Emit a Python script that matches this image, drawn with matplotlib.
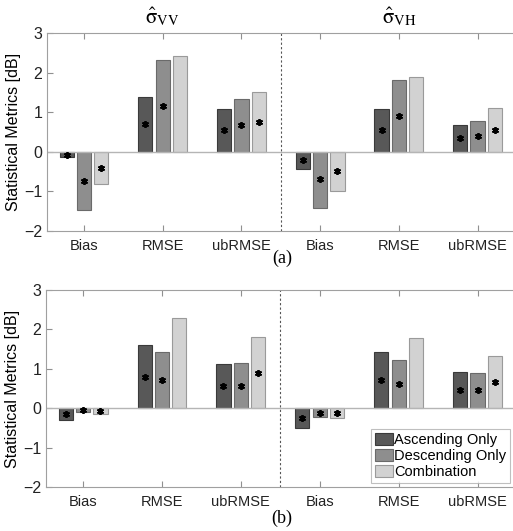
import numpy as np
import matplotlib.pyplot as plt

# =========================
# 数据
# =========================
metrics = ["Bias", "RMSE", "ubRMSE", "Bias", "RMSE", "ubRMSE"]
series = ["Ascending Only", "Descending Only", "Combination"]

# (a) 前三组: sigma_VV, 后三组: sigma_VH
a_asc = [-0.14, 1.38, 1.09, -0.44, 1.07, 0.68]
a_desc = [-1.46, 2.32, 1.33, -1.41, 1.81, 0.77]
a_comb = [-0.82, 2.41, 1.50, -0.98, 1.88, 1.10]
a_star_asc = [-0.08, 0.69, 0.55, -0.22, 0.54, 0.35]
a_star_desc = [-0.73, 1.15, 0.67, -0.70, 0.90, 0.39]
a_star_comb = [-0.41, np.nan, 0.75, -0.49, np.nan, 0.54]

# (b)
b_asc = [-0.31, 1.60, 1.13, -0.51, 1.42, 0.92]
b_desc = [-0.09, 1.42, 1.15, -0.22, 1.22, 0.90]
b_comb = [-0.16, 2.28, 1.80, -0.24, 1.77, 1.33]
b_star_asc = [-0.15, 0.80, 0.56, -0.25, 0.71, 0.46]
b_star_desc = [-0.05, 0.71, 0.56, -0.11, 0.61, 0.45]
b_star_comb = [-0.08, np.nan, 0.90, -0.13, np.nan, 0.66]

colors = ["#585858", "#8e8e8e", "#d2d2d2"]
edges = ["#3a3a3a", "#6a6a6a", "#9a9a9a"]

plt.rcParams["font.family"] = ["Liberation Sans", "DejaVu Sans"]
plt.rcParams["mathtext.fontset"] = "stix"

fig = plt.figure(figsize=(5.13, 5.31), dpi=100)
ax_a = fig.add_axes([47 / 513, 0.565, 1 - 47 / 513, 0.373])
ax_b = fig.add_axes([46 / 513, 0.0829, 1 - 46 / 513, 0.371])

x = np.arange(1, 7)
w = 0.18
off = 0.22


def draw_panel(ax, bars, stars):
    for k in range(3):
        ax.bar(x + (k - 1) * off, bars[k], width=w, color=colors[k],
               edgecolor=edges[k], linewidth=0.8, label=series[k], zorder=2)
        ax.plot(x + (k - 1) * off, stars[k], linestyle="none",
                marker=(6, 2, 0), color="black", markersize=5,
                markeredgewidth=1.3, zorder=3)
    ax.axhline(0, color="#b5b5b5", linewidth=1.0, zorder=2.5)
    ax.axvline(3.5, color="#555555", linestyle=(0, (2, 2)), linewidth=0.8)
    ax.set_xlim(0.53, 6.45)
    ax.set_ylim(-2, 3)
    ax.set_yticks([-2, -1, 0, 1, 2, 3])
    ax.set_xticks(x)
    ax.set_xticklabels(metrics, fontsize=10.5)
    ax.tick_params(axis="x", pad=6)
    ax.tick_params(axis="y", labelsize=11.5)
    ax.set_ylabel("Statistical Metrics [dB]", fontsize=11.5, labelpad=2)
    ax.tick_params(direction="in", top=True, color="#909090", length=4,
                   labelcolor="#222222")
    for side in ["left", "top", "bottom"]:
        ax.spines[side].set_color("#a0a0a0")
    ax.spines["right"].set_visible(False)


draw_panel(ax_a, [a_asc, a_desc, a_comb], [a_star_asc, a_star_desc, a_star_comb])
draw_panel(ax_b, [b_asc, b_desc, b_comb], [b_star_asc, b_star_desc, b_star_comb])

# 标题
ax_a.text(2, 3.12, r"$\hat{\mathrm{σ}}_{\mathrm{VV}}$", fontsize=15, ha="center", va="bottom")
ax_a.text(5, 3.12, r"$\hat{\mathrm{σ}}_{\mathrm{VH}}$", fontsize=15, ha="center", va="bottom")

fig.text(282 / 513, 1 - 258 / 531, "(a)", fontsize=13, ha="center", va="center",
         family="Liberation Serif")
fig.text(282 / 513, 1 - 518 / 531, "(b)", fontsize=13, ha="center", va="center",
         family="Liberation Serif")

leg = ax_b.legend(loc="lower right", bbox_to_anchor=(510 / 513, 48 / 531),
                  bbox_transform=fig.transFigure, fontsize=10.5, fancybox=False,
                  handlelength=1.25, handleheight=0.9, handletextpad=0.1,
                  labelspacing=0.15, borderpad=0.25, borderaxespad=0)
leg.get_frame().set_edgecolor("#b0b0b0")
leg.get_frame().set_linewidth(0.8)

fig.savefig("out.png", dpi=100)
